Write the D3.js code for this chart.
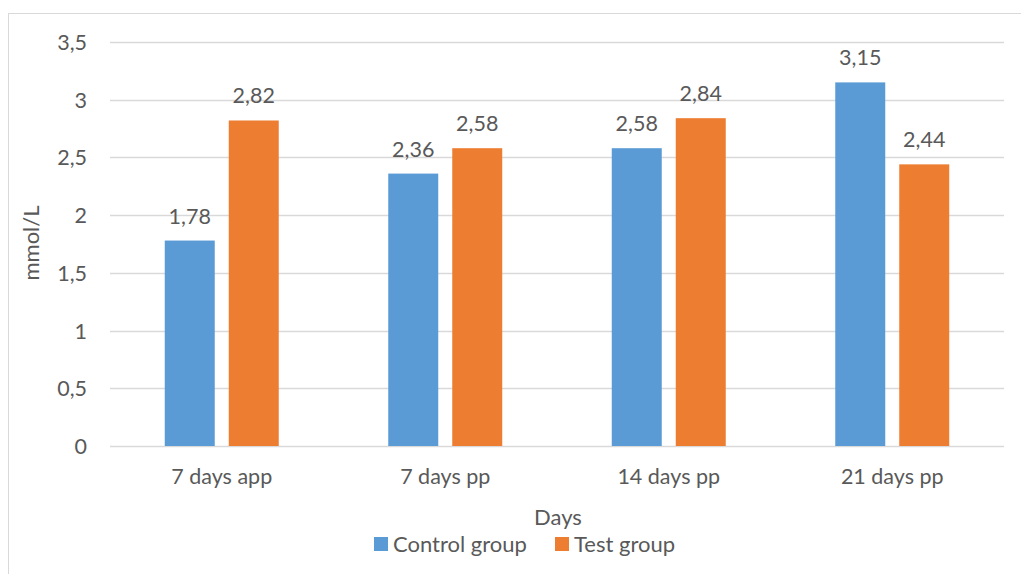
<!DOCTYPE html>
<html><head><meta charset="utf-8">
<script src="https://cdn.jsdelivr.net/npm/d3@7"></script>
<style>body{margin:0;background:#fff}svg{display:block}text{font-family:Lato,"Open Sans",sans-serif;fill:#595959}</style>
</head><body>
<svg id="c" width="1021" height="574"></svg>
<script>
const categories = ["7 days app", "7 days pp", "14 days pp", "21 days pp"];
const seriesNames = ["Control group", "Test group"];
const controlValues = [1.78, 2.36, 2.58, 3.15];
const testValues = [2.82, 2.58, 2.84, 2.44];
const yTicks = [0, 0.5, 1, 1.5, 2, 2.5, 3, 3.5];
const colors = ["#5B9BD5", "#ED7D31"];

(function(){
const svg = d3.select("#c");
const fmt = v => String(v).replace(".", ",");
svg.append("rect").attr("x",8.5).attr("y",13.5).attr("width",1100).attr("height",700)
  .attr("fill","#fff").attr("stroke","#D9D9D9").attr("stroke-width",1);

const pLeft = 110, pRight = 1004, pTop = 42, pBottom = 446;
const y = d3.scaleLinear().domain([0, 3.5]).range([pBottom, pTop]);
const x0 = d3.scaleBand().domain(categories).range([pLeft, pRight]).padding(0);
const x1 = d3.scaleBand().domain(seriesNames).range([-57, 57]).paddingInner(14/64).paddingOuter(0);

// gridlines
svg.append("g").selectAll("line").data(yTicks).join("line")
  .attr("x1", pLeft).attr("x2", pRight)
  .attr("y1", d => Math.round(y(d)) + 0.5).attr("y2", d => Math.round(y(d)) + 0.5)
  .attr("stroke", "#D9D9D9").attr("stroke-width", 1.3);

// y axis labels
const yAxis = d3.axisLeft(y).tickValues(yTicks).tickFormat(fmt).tickSize(0).tickPadding(0);
const gy = svg.append("g").attr("transform", "translate(87,0)").call(yAxis);
gy.select(".domain").remove();
gy.selectAll("text").style("font-size","21.5px").attr("fill","#595959").attr("dy","0.35em")
  .style("font-family","Lato,'Open Sans',sans-serif");

// x axis labels
const xAxis = d3.axisBottom(x0).tickSize(0).tickPadding(0);
const gx = svg.append("g").attr("transform", `translate(0,${pBottom})`).call(xAxis);
gx.select(".domain").remove();
gx.selectAll("text").style("font-size","21.5px").attr("fill","#595959").attr("dy","38px")
  .style("font-family","Lato,'Open Sans',sans-serif");

const series = [controlValues, testValues];
const data = [];
categories.forEach((c, i) => seriesNames.forEach((s, j) => data.push({c, s, v: series[j][i], j})));

const xc = d => x0(d.c) + x0.bandwidth() / 2 + x1(d.s);
svg.append("g").selectAll("rect").data(data).join("rect")
  .attr("x", xc).attr("width", x1.bandwidth())
  .attr("y", d => y(d.v)).attr("height", d => y(0) - y(d.v))
  .attr("fill", d => colors[d.j]);

// value labels
svg.append("g").selectAll("text").data(data).join("text")
  .attr("x", d => xc(d) + x1.bandwidth() / 2).attr("y", d => y(d.v) - 17)
  .attr("text-anchor", "middle").style("font-size", "21.5px").text(d => fmt(d.v));

// axis titles
svg.append("text").attr("x", (pLeft + pRight) / 2 + 1).attr("y", 525).attr("text-anchor","middle")
  .style("font-size","22px").text("Days");
svg.append("text").attr("transform","translate(39,243) rotate(-90)").attr("text-anchor","middle")
  .style("font-size","22px").text("mmol/L");

// legend
const legendX = [374, 555];
const lg = svg.append("g").selectAll("g").data(seriesNames).join("g")
  .attr("transform", (d, i) => `translate(${legendX[i]},537)`);
lg.append("rect").attr("width", 14).attr("height", 14).attr("fill", (d, i) => colors[i]);
lg.append("text").attr("x", 19).attr("y", 14.5).style("font-size","22px").text(d => d);
})();
</script>
</body></html>
